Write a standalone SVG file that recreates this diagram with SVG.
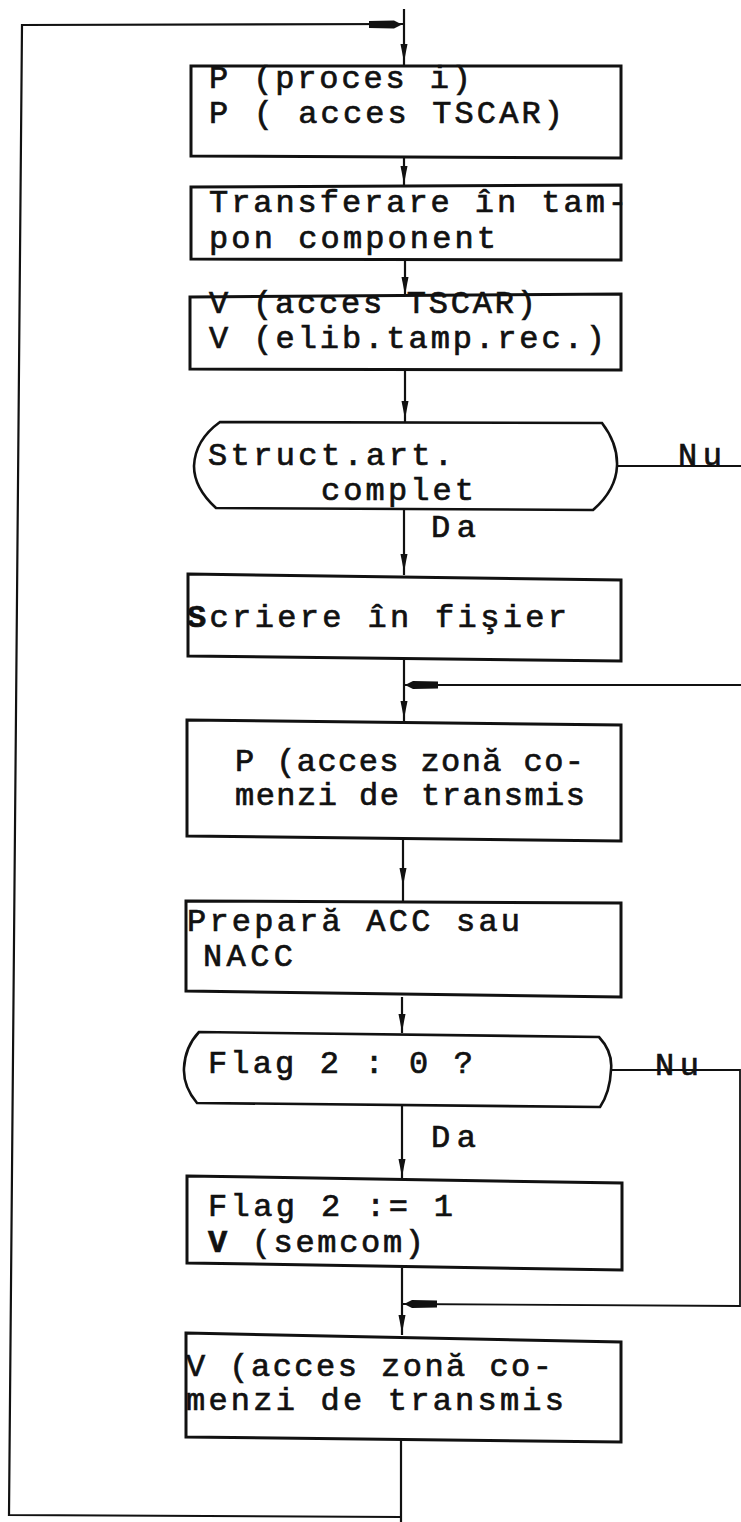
<svg xmlns="http://www.w3.org/2000/svg" xmlns:xlink="http://www.w3.org/1999/xlink" width="741" height="1522" viewBox="0 0 741 1522">
  <style>
    .box { fill: none; stroke: #111; stroke-width: 3; stroke-linejoin: miter; }
    .dec { fill: none; stroke: #111; stroke-width: 2.6; }
    .wire { fill: none; stroke: #111; stroke-width: 2.2; }
    .thin { fill: none; stroke: #111; stroke-width: 1.8; }
    .head { fill: #111; stroke: none; }
    text { font-family: "Liberation Mono", "DejaVu Sans Mono", monospace; font-size: 32px; fill: #111; stroke: #111; stroke-width: 0.7; }
    .b { font-weight: bold; }
  </style>
  <defs>
    <!-- narrow downward arrowhead, tip at origin -->
    <path id="ahDown" d="M0,0 L-3.5,-18 L3.5,-18 Z"/>
    <!-- heavy horizontal arrowheads for the merge points -->
    <path id="ahLeft" d="M0,0 L8,-4 L33,-3.5 L33,3.5 L8,4 Z"/>
    <path id="ahRight" d="M0,0 L-8,-4 L-33,-3.5 L-33,3.5 L-8,4 Z"/>
  </defs>

  <rect width="741" height="1522" fill="#fff"/>

  <!-- connectors -->
  <g id="connectors">
    <path class="wire" d="M404,9 V66"/>
    <path class="wire" d="M404,157 V186"/>
    <path class="wire" d="M405,260 V296"/>
    <path class="wire" d="M405,371 V422"/>
    <path class="wire" d="M404,510 V575"/>
    <path class="wire" d="M404,659 V722"/>
    <path class="wire" d="M403,840 V901"/>
    <path class="wire" d="M402,997 V1033"/>
    <path class="wire" d="M402,1106 V1178"/>
    <path class="wire" d="M402,1268 V1335"/>
    <!-- loop back from the last step to the top -->
    <path class="wire" d="M401,1440 V1522"/>
    <path class="wire" d="M401,1517 L9,1515 L22,25 L404,24"/>
    <!-- "Nu" branches -->
    <path class="thin" d="M617,466 H745 V685 H404"/>
    <path class="thin" d="M611,1070 L740,1070 L740,1306 L402,1304"/>

    <use xlink:href="#ahRight" class="head" x="402" y="24.5"/>
    <use xlink:href="#ahDown" class="head" x="404" y="62"/>
    <use xlink:href="#ahDown" class="head" x="404" y="184"/>
    <use xlink:href="#ahDown" class="head" x="405" y="295"/>
    <use xlink:href="#ahDown" class="head" x="405" y="419"/>
    <use xlink:href="#ahDown" class="head" x="404" y="572"/>
    <use xlink:href="#ahLeft" class="head" x="405" y="685"/>
    <use xlink:href="#ahDown" class="head" x="404" y="719"/>
    <use xlink:href="#ahDown" class="head" x="403" y="886"/>
    <use xlink:href="#ahDown" class="head" x="402" y="1032"/>
    <use xlink:href="#ahDown" class="head" x="402" y="1177"/>
    <use xlink:href="#ahLeft" class="head" x="404" y="1304"/>
    <use xlink:href="#ahDown" class="head" x="402" y="1333"/>

    <text x="431" y="537" textLength="45" lengthAdjust="spacing">Da</text>
    <text x="678" y="465" textLength="44" lengthAdjust="spacing">Nu</text>
    <text x="431" y="1147" textLength="45" lengthAdjust="spacing">Da</text>
    <text x="655" y="1075" textLength="44" lengthAdjust="spacing">Nu</text>
  </g>

  <g id="n1">
    <path class="box" d="M191,66 L621,66 L621,158 L191,156 Z"/>
    <text><tspan x="209" y="88" textLength="262" lengthAdjust="spacing">P (proces i)</tspan><tspan x="209" y="123" textLength="354" lengthAdjust="spacing">P ( acces TSCAR)</tspan></text>
  </g>

  <g id="n2">
    <path class="box" d="M191,187 L621,185 L621,260 L191,259 Z"/>
    <text><tspan x="209" y="212" textLength="418" lengthAdjust="spacing">Transferare în tam-</tspan><tspan x="209" y="248" textLength="287" lengthAdjust="spacing">pon component</tspan></text>
  </g>

  <g id="n3">
    <path class="box" d="M190,297 L621,294 L621,370 L190,369 Z"/>
    <text><tspan x="209" y="313" textLength="327" lengthAdjust="spacing">V (acces TSCAR)</tspan><tspan x="209" y="348" textLength="396" lengthAdjust="spacing">V (elib.tamp.rec.)</tspan></text>
  </g>

  <g id="d1">
    <path class="dec" d="M220,422 L602,423 Q618,444 617,466 Q616,490 593,510 L216,508 Q194,488 194,466 Q195,440 220,422 Z"/>
    <text><tspan x="208" y="465" textLength="245" lengthAdjust="spacing">Struct.art.</tspan><tspan x="321" y="500" textLength="153" lengthAdjust="spacing">complet</tspan></text>
  </g>

  <g id="n4">
    <path class="box" d="M188,574 L621,580 L621,661 L188,656 Z"/>
    <text x="187" y="627" textLength="380" lengthAdjust="spacing"><tspan class="b">S</tspan>criere în fişier</text>
  </g>

  <g id="n5">
    <path class="box" d="M187,720 L621,725 L621,841 L187,836 Z"/>
    <text><tspan x="235" y="771" textLength="349" lengthAdjust="spacing">P (acces zonă co-</tspan><tspan x="235" y="805" textLength="350" lengthAdjust="spacing">menzi de transmis</tspan></text>
  </g>

  <g id="n6">
    <path class="box" d="M186,901 L621,903 L621,997 L186,991 Z"/>
    <text><tspan x="187" y="931" textLength="333" lengthAdjust="spacing">Prepară ACC sau</tspan><tspan x="203" y="966" textLength="90" lengthAdjust="spacing">NACC</tspan></text>
  </g>

  <g id="d2">
    <path class="dec" d="M199,1032 L599,1037 Q613,1052 611,1070 Q610,1092 600,1107 L197,1103 Q183,1086 184,1068 Q185,1047 199,1032 Z"/>
    <text x="208" y="1073" textLength="265" lengthAdjust="spacing">Flag 2 : 0 ?</text>
  </g>

  <g id="n7">
    <path class="box" d="M187,1176 L622,1183 L622,1270 L187,1263 Z"/>
    <text><tspan x="208" y="1216" textLength="245" lengthAdjust="spacing">Flag 2 := 1</tspan><tspan x="208" y="1252" textLength="216" lengthAdjust="spacing"><tspan class="b">V</tspan> (semcom)</tspan></text>
  </g>

  <g id="n8">
    <path class="box" d="M186,1333 L621,1342 L621,1442 L186,1437 Z"/>
    <text><tspan x="186" y="1376" textLength="366" lengthAdjust="spacing">V (acces zonă co-</tspan><tspan x="186" y="1410" textLength="378" lengthAdjust="spacing">menzi de transmis</tspan></text>
  </g>
</svg>
